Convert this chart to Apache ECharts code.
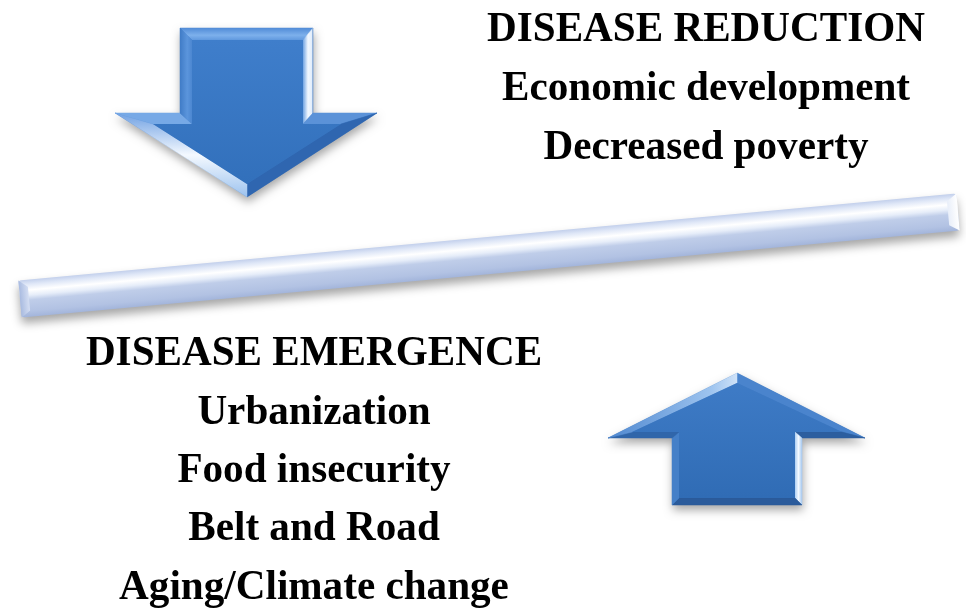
<!DOCTYPE html>
<html>
<head>
<meta charset="utf-8">
<script src="https://cdn.jsdelivr.net/npm/echarts@6/dist/echarts.min.js"></script>
<style>
  html, body { margin: 0; padding: 0; background: #ffffff; }
  #chart { width: 966px; height: 608px; }
</style>
</head>
<body>
<div id="chart"></div>
<script>
// Text content of the diagram
const topLines = ['DISEASE REDUCTION', 'Economic development', 'Decreased poverty'];
const bottomLines = ['DISEASE EMERGENCE', 'Urbanization', 'Food insecurity', 'Belt and Road', 'Aging/Climate change'];

const chart = echarts.init(document.getElementById('chart'), null, { renderer: 'canvas' });
const LG = echarts.graphic.LinearGradient;

const FONT = '"Liberation Serif", "Times New Roman", serif';
function textBlock(lines, cx, y0, step) {
  return lines.map((t, i) => ({
    type: 'text',
    x: cx, y: y0 + i * step,
    scaleX: 0.957,
    z: 10,
    style: {
      text: t, fontSize: 43, fontWeight: 'bold', fontFamily: FONT, fill: '#000000',
      align: 'center', verticalAlign: 'middle',
      textAlign: 'center', textVerticalAlign: 'middle'
    }
  }));
}

// beveled polygon: outer points, inner points, facet colours per outer edge
function bevelShape(outer, inner, facetFills, faceFill) {
  const els = [];
  els.push({
    type: 'polygon', z: 1,
    shape: { points: outer },
    style: { fill: '#3a74bd', shadowBlur: 10, shadowColor: 'rgba(0,0,0,0.35)', shadowOffsetY: 5, shadowOffsetX: 1 }
  });
  const n = outer.length;
  for (let i = 0; i < n; i++) {
    const j = (i + 1) % n;
    els.push({
      type: 'polygon', z: 2,
      shape: { points: [outer[i], outer[j], inner[j], inner[i]] },
      style: { fill: facetFills[i], stroke: facetFills[i], lineWidth: 0.5 }
    });
  }
  els.push({
    type: 'polygon', z: 3,
    shape: { points: inner },
    style: { fill: faceFill }
  });
  return els;
}

// Down arrow
const downOuter = [[180,28],[313,28],[313,113],[377,113],[247,197],[115,113],[180,113]];
const downInner = [[192,40],[303,40],[303,124],[341,124],[247,184],[153,124],[192,124]];
const downFacets = [
  new LG(0,0,0,1,[{offset:0,color:'#4f8ad6'},{offset:0.6,color:'#7db0ec'},{offset:1,color:'#5f98de'}]),
  new LG(0,0,1,0,[{offset:0,color:'#6aa0e2'},{offset:0.5,color:'#f2f8ff'},{offset:0.85,color:'#e2eefc'},{offset:1,color:'#4b7fc2'}]),
  '#5b92d8',
  '#2f66b0',
  new LG(0,0,0,1,[{offset:0,color:'#6fa0e2'},{offset:0.5,color:'#f4f9ff'},{offset:1,color:'#9cc2ee'}]),
  '#77a9e6',
  new LG(0,0,1,0,[{offset:0,color:'#3f7bc6'},{offset:0.6,color:'#5b95dc'},{offset:1,color:'#4b86d0'}])
];
const downFace = new LG(0,0,0,1,[{offset:0,color:'#3f7ecb'},{offset:1,color:'#3270bb'}]);

// Up arrow
const upOuter = [[737,373],[865,438],[802,438],[802,505],[672,505],[672,438],[608,438]];
const upInner = [[737,383],[842,432],[795,432],[795,498],[679,498],[679,432],[632,432]];
const upFacets = [
  '#4a84cd',
  '#2c5e9f',
  new LG(0,0,1,0,[{offset:0,color:'#a8ccf3'},{offset:0.5,color:'#f3f9ff'},{offset:1,color:'#9fc4ee'}]),
  '#2b5b9b',
  '#4580c8',
  '#3066aa',
  new LG(0,0,1,0,[{offset:0,color:'#4f88d0'},{offset:0.8,color:'#9ec4ef'},{offset:1,color:'#cfe2f8'}])
];
const upFace = new LG(0,0,0,1,[{offset:0,color:'#3e7bc6'},{offset:1,color:'#306cb5'}]);

// Seesaw bar
const barX0 = 20, barY0 = 299, barX1 = 958, barY1 = 212;
const barLen = Math.hypot(barX1 - barX0, barY1 - barY0);
const barAng = Math.atan2(barY0 - barY1, barX1 - barX0);
const barH = 37;
const bar = {
  type: 'group',
  x: barX0, y: barY0, rotation: barAng, z: 0,
  children: [
    {
      type: 'rect',
      shape: { x: 0, y: -barH / 2, width: barLen, height: barH, r: 3 },
      style: {
        fill: new LG(0,0,0,1,[
          {offset:0,color:'#c3d0ec'},
          {offset:0.12,color:'#dfe7f7'},
          {offset:0.28,color:'#ffffff'},
          {offset:0.42,color:'#e6edf9'},
          {offset:0.55,color:'#bfcde9'},
          {offset:0.85,color:'#b2c2e3'},
          {offset:1,color:'#a3b5db'}
        ]),
        shadowBlur: 10, shadowColor: 'rgba(0,0,0,0.35)', shadowOffsetY: 6
      }
    },
    {
      type: 'polygon',
      shape: { points: [[0,-barH/2],[9,-barH/2+7],[9,barH/2-6],[0,barH/2]] },
      style: { fill: new LG(0,0,1,0,[{offset:0,color:'#a9bbe0'},{offset:1,color:'#d4def3'}]) }
    },
    {
      type: 'polygon',
      shape: { points: [[barLen,-barH/2],[barLen-10,-barH/2+7],[barLen-10,barH/2-6],[barLen,barH/2]] },
      style: { fill: new LG(0,0,1,0,[{offset:0,color:'#e8eef9'},{offset:1,color:'#ffffff'}]) }
    }
  ]
};

const graphics = []
  .concat([bar])
  .concat(bevelShape(downOuter, downInner, downFacets, downFace))
  .concat(bevelShape(upOuter, upInner, upFacets, upFace))
  .concat(textBlock(topLines, 706, 30, 58.7))
  .concat(textBlock(bottomLines, 314, 354, 58.4));

chart.setOption({
  backgroundColor: '#ffffff',
  animation: false,
  graphic: { elements: graphics }
});
</script>
</body>
</html>
